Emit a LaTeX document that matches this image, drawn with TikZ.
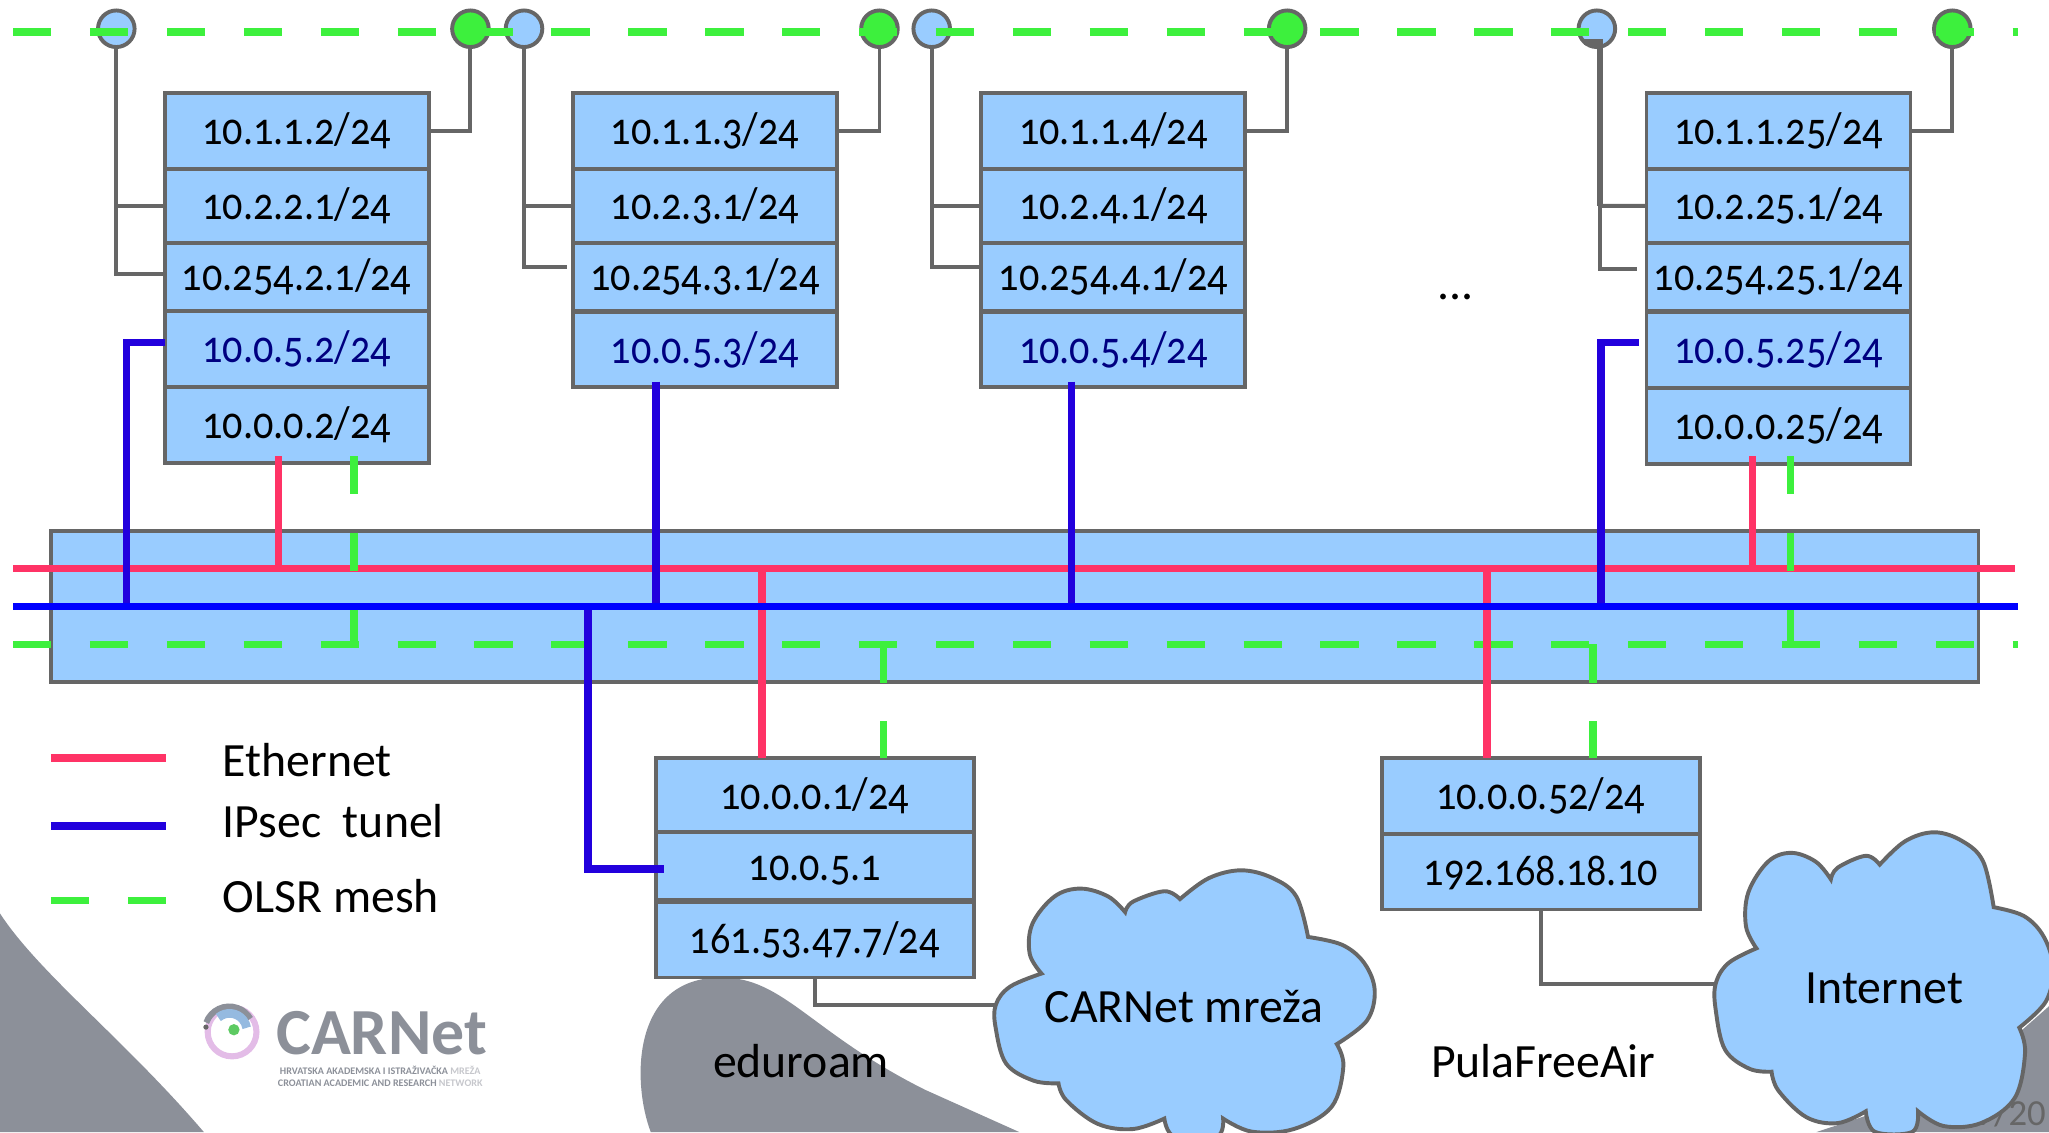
\documentclass[tikz,border=0pt]{standalone}
\usepackage{fontspec}
\setmainfont[Numbers=OldStyle]{Carlito}
\newfontfamily\ifacefont[Numbers=OldStyle, FakeStretch=0.875]{Carlito}
\definecolor{ifaceblue}{HTML}{99CCFF}
\definecolor{linegray}{HTML}{666666}
\definecolor{backgray}{HTML}{8C9099}
\definecolor{ethpink}{HTML}{FF3366}
\definecolor{ipblue}{HTML}{2200DD}
\definecolor{busblue}{HTML}{0000FF}
\definecolor{olsrgreen}{HTML}{3DF03D}
\definecolor{ipsectext}{HTML}{000080}
\tikzset{
  iface/.style={draw=linegray, fill=ifaceblue, line width=0.045cm, inner sep=0pt, outer sep=0pt,
    minimum width=3.03cm, anchor=north, font=\ifacefont\fontsize{15}{15}\selectfont,
    text height=11pt, text depth=2pt},
  ifacewide/.style={iface, minimum width=3.65cm},
  rowa/.style={minimum height=0.87cm},
  rowb/.style={minimum height=0.855cm},
  rowc/.style={minimum height=0.78cm},
  ipsectxt/.style={text=ipsectext},
  joint/.style={circle, draw=linegray, line width=0.045cm, minimum size=0.42cm, inner sep=0pt, outer sep=0pt},
  jointa/.style={joint, fill=ifaceblue},
  jointb/.style={joint, fill=olsrgreen},
  wire/.style={draw=linegray, line width=0.045cm},
  eth/.style={draw=ethpink, line width=0.085cm},
  ipsec/.style={draw=ipblue, line width=0.085cm},
  ipbus/.style={draw=busblue, line width=0.085cm},
  olsr/.style={draw=olsrgreen, line width=0.085cm, dash pattern=on 0.44cm off 0.4427cm},
  caption/.style={font=\fontsize{15.6}{15.6}\selectfont, inner sep=0pt},
}
% Cloud outline, lobe by lobe, around its own centre
\newcommand{\cloudoutline}{
  plot[smooth, tension=0.6] coordinates {(-110,-25) (-119,-40) (-117,-63) (-100,-84) (-80,-90) (-59,-84) (-46,-72)}
  -- plot[smooth, tension=0.6] coordinates {(-46,-72) (-40,-80) (-16,-88) (-4,-82)}
  -- plot[smooth, tension=0.6] coordinates {(-4,-82) (18,-98) (43,-104) (67,-98) (85,-84) (94,-53)}
  -- plot[smooth, tension=0.6] coordinates {(94,-53) (120,-47) (137,-33) (145,-12) (139,11) (116,29)}
  -- plot[smooth, tension=0.6] coordinates {(116,29) (121,46) (112,77) (83,94) (51,96) (29,86)}
  -- plot[smooth, tension=0.6] coordinates {(29,86) (24,100) (-8,100) (-16,86)}
  -- plot[smooth, tension=0.6] coordinates {(-16,86) (-40,94) (-67,90) (-91,72) (-97,59)}
  -- plot[smooth, tension=0.6] coordinates {(-97,59) (-116,57) (-137,44) (-145,17) (-145,-1) (-134,-15) (-110,-25)}
  -- cycle
}

\begin{document}
\begin{tikzpicture}[x=0.015cm, y=-0.015cm]
    \path[use as bounding box, clip] (0,0) rectangle (1568,866.27);

    % Grey shapes behind the network
    \fill[backgray] (0,699) .. controls (30,745) and (95,795) .. (156,866.3) -- (0,866.3) -- cycle;
    \fill[backgray] (498,866.3) .. controls (484,830) and (482,748) .. (552,748)
        .. controls (600,748) and (620,790) .. (708,834) -- (780,866.3) -- cycle;
    \fill[backgray] (1390,866.3) -- (1500,830) -- (1568,770) -- (1568,866.3) -- cycle;
    \node[text=linegray, font=\addfontfeature{Numbers=Lining}\fontsize{12}{12}\selectfont, inner sep=0pt, anchor=base east] (pagenum) at (1566,861) {19/20};

    % Logo
    \node[circle, draw=backgray!60!magenta!40, line width=0.07cm, minimum size=0.56cm, inner sep=0pt] (logoring) at (177.6,789.7) {};
    \draw[backgray, line width=0.07cm] (logoring.160) arc[start angle=160, end angle=30, radius=0.28cm];
    \draw[ifaceblue!70!backgray, line width=0.1cm] (logoring.130) ++(3,5) arc[start angle=130, end angle=10, radius=0.2cm];
    \node[circle, fill=olsrgreen!60!backgray, minimum size=0.13cm, inner sep=0pt] (logodot) at (179,788) {};
    \node[circle, fill=linegray, minimum size=0.06cm, inner sep=0pt] (logopin) at (157.6,786) {};
    \node[font=\fontsize{21.5}{21.5}\selectfont\bfseries, text=backgray, inner sep=0pt, anchor=base] (logoname) at (292,807) {CARNet};
    \node[font=\fontsize{3.3}{3.9}\selectfont\bfseries, text=backgray, inner sep=0pt, align=center] (logosub) at (291,824)
        {HRVATSKA AKADEMSKA I ISTRAŽIVAČKA {\color{backgray!50}MREŽA}\\CROATIAN ACADEMIC AND RESEARCH {\color{backgray!50}NETWORK}};

    % Shared segment
    \node[draw=linegray, fill=ifaceblue, line width=0.045cm, minimum width=22.125cm, minimum height=1.74cm, inner sep=0pt] (bus) at (776.5,464) {};

    % Node 2
    \node[iface, rowa] (rA1) at (227,71) {10.1.1.2/24};
    \node[iface, rowb] (rA2) at (227,129) {10.2.2.1/24};
    \node[iface, rowc] (rA3) at (227,186) {10.254.2.1/24};
    \node[iface, rowa, ipsectxt] (rA4) at (227,238) {10.0.5.2/24};
    \node[iface, rowa] (rA5) at (227,296) {10.0.0.2/24};

    % Node 3
    \node[iface, rowa] (rB1) at (539.5,71) {10.1.1.3/24};
    \node[iface, rowb] (rB2) at (539.5,129) {10.2.3.1/24};
    \node[iface, rowc] (rB3) at (539.5,186) {10.254.3.1/24};
    \node[iface, rowb, ipsectxt] (rB4) at (539.5,239) {10.0.5.3/24};

    % Node 4
    \node[iface, rowa] (rC1) at (852,71) {10.1.1.4/24};
    \node[iface, rowb] (rC2) at (852,129) {10.2.4.1/24};
    \node[iface, rowc] (rC3) at (852,186) {10.254.4.1/24};
    \node[iface, rowb, ipsectxt] (rC4) at (852,239) {10.0.5.4/24};

    \node[caption] (more) at (1114,227) {...};

    % Node 25
    \node[iface, rowa] (rD1) at (1361,71) {10.1.1.25/24};
    \node[iface, rowb] (rD2) at (1361,129) {10.2.25.1/24};
    \node[iface, rowc] (rD3) at (1361,186) {10.254.25.1/24};
    \node[iface, rowa, ipsectxt] (rD4) at (1361,239) {10.0.5.25/24};
    \node[iface, rowa] (rD5) at (1361,297) {10.0.0.25/24};

    % Gateways
    \node[ifacewide, rowa] (rE1) at (623.5,580) {10.0.0.1/24};
    \node[ifacewide, rowc] (rE2) at (623.5,637) {10.0.5.1};
    \node[ifacewide, rowa] (rE3) at (623.5,690) {161.53.47.7/24};
    \node[ifacewide, rowa] (rF1) at (1179,580) {10.0.0.52/24};
    \node[ifacewide, rowa] (rF2) at (1179,638) {192.168.18.10};

    % Clouds
    \filldraw[wire, fill=ifaceblue, shift={(907,770)}] \cloudoutline;
    \filldraw[wire, fill=ifaceblue, shift={(1442,753.8)}, xscale=0.89, yscale=1.124] \cloudoutline;
    \node[caption] (carnet) at (906,770) {CARNet mreža};
    \node[caption] (internet) at (1442,756) {Internet};
    \node[caption] (eduroam) at (613,812) {eduroam};
    \node[caption] (pula) at (1181,812) {PulaFreeAir};
    \coordinate (cloudA) at (763,769);
    \coordinate (cloudB) at (1312,753);

    % Joints on the top mesh
    \node[jointa] (jA1) at (89,22) {};
    \node[jointb] (jA2) at (360,22) {};
    \node[jointa] (jB1) at (401,22) {};
    \node[jointb] (jB2) at (673,22) {};
    \node[jointa] (jC1) at (713,22) {};
    \node[jointb] (jC2) at (985,22) {};
    \node[jointa] (jD1) at (1222,22) {};
    \node[jointb] (jD2) at (1494,22) {};

    % Grey links
    \coordinate (stubA) at (126,210);
    \coordinate (stubB) at (434,204);
    \coordinate (stubC) at (750,204);
    \coordinate (stubD) at (1253,206);
    \coordinate (tapD) at (1224.5,157.5);
    \draw[wire] (jA1.south) |- (stubA);
    \draw[wire] (jA1.south |- rA2.west) -- (rA2.west);
    \draw[wire] (jA2.south) |- (rA1.east);
    \draw[wire] (jB1.south) |- (stubB);
    \draw[wire] (jB1.south |- rB2.west) -- (rB2.west);
    \draw[wire] (jB2.south) |- (rB1.east);
    \draw[wire] (jC1.south) |- (stubC);
    \draw[wire] (jC1.south |- rC2.west) -- (rC2.west);
    \draw[wire] (jC2.south) |- (rC1.east);
    \draw[wire, line width=0.07cm] (jD1.south west) -| (tapD);
    \draw[wire] (tapD) |- (stubD);
    \draw[wire] (tapD) -- (rD2.west);
    \draw[wire] (jD2.south) |- (rD1.east);
    \draw[wire] (rE3.south) |- (cloudA);
    \draw[wire] (rF2.south) |- (cloudB);

    % Mesh lines
    \coordinate (olsrTL) at (10,24.6);
    \coordinate (olsrTR) at (1544,24.6);
    \coordinate (olsrBL) at (10,493);
    \coordinate (olsrBR) at (1544,493);
    \draw[olsr] (olsrTL) -- (olsrTR);
    \draw[olsr] (olsrBL) -- (olsrBR);

    % Ethernet bus and its drops
    \coordinate (ethL) at (10,435);
    \coordinate (ethR) at (1542,435);
    \coordinate (ethA) at (213,349);
    \coordinate (ethD) at (1341,349);
    \coordinate (ethE) at (583,435);
    \coordinate (ethF) at (1138,435);
    \draw[eth] (ethL) -- (ethR);
    \draw[eth] (ethA) -- (ethA |- ethL);
    \draw[eth] (ethD) -- (ethD |- ethL);
    \draw[eth] (ethE) -- (ethE |- rE1.north);
    \draw[eth] (ethF) -- (ethF |- rF1.north);

    % Mesh drops
    \coordinate (olsrA) at (271,349);
    \coordinate (olsrD) at (1370,349);
    \coordinate (olsrE) at (676,493);
    \coordinate (olsrF) at (1219,493);
    \draw[olsr] (olsrA) -- (olsrA |- olsrBL);
    \draw[olsr] (olsrD) -- (olsrD |- olsrBL);
    \draw[olsr] (olsrE) -- (olsrE |- rE1.north);
    \draw[olsr] (olsrF) -- (olsrF |- rF1.north);

    % IPsec bus and its drops
    \coordinate (ipL) at (10,464);
    \coordinate (ipR) at (1544,464);
    \coordinate (ipA) at (97,464);
    \coordinate (ipB) at (502,292);
    \coordinate (ipC) at (820,292);
    \coordinate (ipD) at (1225,464);
    \coordinate (ipE) at (450,464);
    \coordinate (ipStub) at (1254,262);
    \coordinate (ipGate) at (508,665);
    \draw[ipsec] (rA4.west |- ipStub) -| (ipA);
    \draw[ipsec] (ipB) -- (ipB |- ipL);
    \draw[ipsec] (ipC) -- (ipC |- ipL);
    \draw[ipsec] (ipStub) -| (ipD);
    \draw[ipsec] (ipE) |- (ipGate);
    \draw[ipbus] (ipL) -- (ipR);

    % Legend
    \coordinate (keyA) at (39,580);
    \coordinate (keyB) at (127,580);
    \coordinate (keyC) at (39,632);
    \coordinate (keyD) at (127,632);
    \coordinate (keyE) at (39,689);
    \coordinate (keyF) at (127,689);
    \draw[eth] (keyA) -- (keyB);
    \draw[ipsec] (keyC) -- (keyD);
    \draw[olsr] (keyE) -- (keyF);
    \node[caption, anchor=west] (keyeth) at (170,582) {Ethernet};
    \node[caption, anchor=west] (keyip) at (170,628) {IPsec\ \ tunel};
    \node[caption, anchor=west] (keyolsr) at (170,686) {OLSR mesh};
\end{tikzpicture}
\end{document}
